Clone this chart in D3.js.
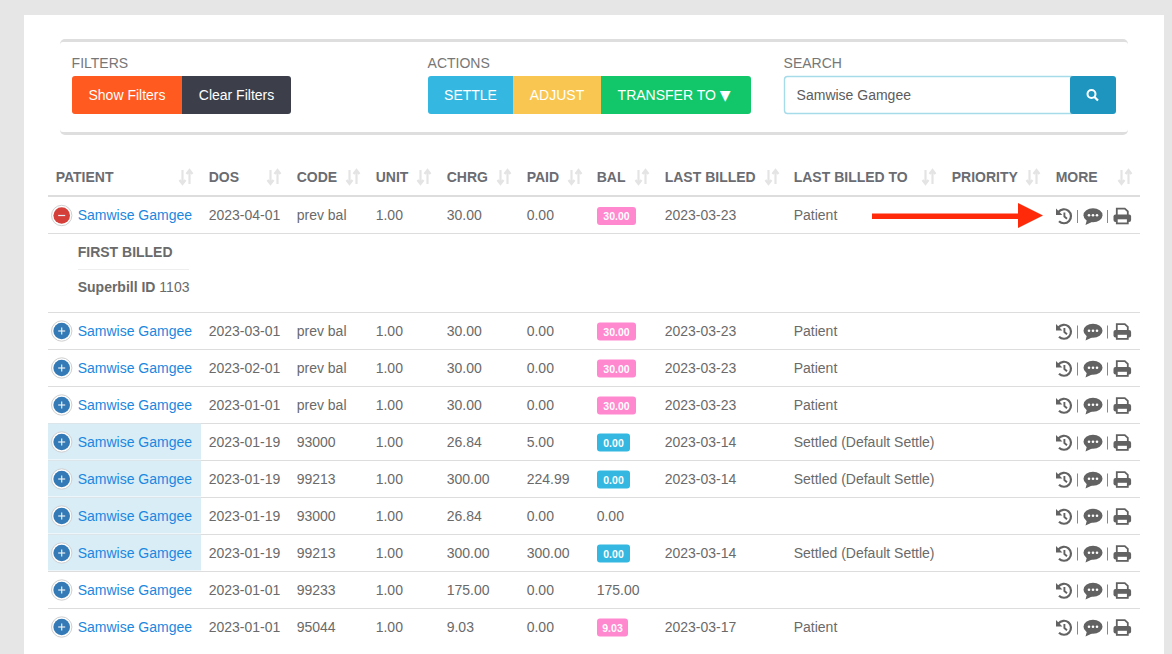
<!DOCTYPE html>
<html>
<head>
<meta charset="utf-8">
<script src="https://cdn.jsdelivr.net/npm/d3@7"></script>
<style>
  html, body { margin: 0; padding: 0; background: #e6e6e6; overflow: hidden; }
  svg { display: block; font-family: "Liberation Sans", Arial, sans-serif; }
</style>
</head>
<body>
<div id="vis"></div>
<script>
// table columns
var columns = ["PATIENT", "DOS", "CODE", "UNIT", "CHRG", "PAID", "BAL", "LAST BILLED", "LAST BILLED TO", "PRIORITY", "MORE"];
var columnX = [55.7, 208.7, 296.7, 375.7, 446.7, 526.7, 596.7, 664.7, 793.7, 951.7, 1055.7];
var sortX = [179, 267, 346, 417, 497, 568, 635, 765, 922, 1026, 1118];

// row values, top to bottom
var dos = ["2023-04-01", "2023-03-01", "2023-02-01", "2023-01-01", "2023-01-19", "2023-01-19", "2023-01-19", "2023-01-19", "2023-01-01", "2023-01-01"];
var codes = ["prev bal", "prev bal", "prev bal", "prev bal", "93000", "99213", "93000", "99213", "99233", "95044"];
var chrg = ["30.00", "30.00", "30.00", "30.00", "26.84", "300.00", "26.84", "300.00", "175.00", "9.03"];
var paid = ["0.00", "0.00", "0.00", "0.00", "5.00", "224.99", "0.00", "300.00", "0.00", "0.00"];
var bal = ["30.00", "30.00", "30.00", "30.00", "0.00", "0.00", "0.00", "0.00", "175.00", "9.03"];
var balStyle = ["pink", "pink", "pink", "pink", "blue", "blue", "plain", "blue", "plain", "pink"];
var lastBilled = ["2023-03-23", "2023-03-23", "2023-03-23", "2023-03-23", "2023-03-14", "2023-03-14", "", "2023-03-14", "", "2023-03-17"];
var billedTo = ["Patient", "Patient", "Patient", "Patient", "Settled (Default Settle)", "Settled (Default Settle)", "", "Settled (Default Settle)", "", "Patient"];
var shaded = [false, false, false, false, true, true, true, true, false, false];

var width = 1172;
var height = 654;
var textColor = "#6a6a6a";
var iconColor = "#626262";
var lineColor = "#dddddd";

var svg = d3.select("#vis").append("svg").attr("width", width).attr("height", height);

svg.append("rect").attr("width", width).attr("height", height).attr("fill", "#e6e6e6");
svg.append("rect").attr("x", 24).attr("y", 15).attr("width", 1140).attr("height", 640).attr("fill", "#fff");

// toolbar panel
svg.append("rect").attr("x", 60).attr("y", 39).attr("width", 1068).attr("height", 96).attr("rx", 5).attr("fill", "#dedede");
svg.append("rect").attr("x", 60).attr("y", 42).attr("width", 1068).attr("height", 90).attr("rx", 3).attr("fill", "#fff");

function label(txt, x) {
  svg.append("text").attr("x", x).attr("y", 68).attr("font-size", 14).attr("fill", "#777").text(txt);
}
label("FILTERS", 71.6);
label("ACTIONS", 427.6);
label("SEARCH", 783.6);

// a run of joined buttons with rounded outer corners
function buttons(list) {
  var x0 = list[0].x, x1 = list[list.length - 1].x + list[list.length - 1].w;
  var id = "clip" + x0;
  svg.append("clipPath").attr("id", id).append("rect")
    .attr("x", x0).attr("y", 76).attr("width", x1 - x0).attr("height", 38).attr("rx", 3);
  var g = svg.append("g").attr("clip-path", "url(#" + id + ")");
  list.forEach(function (b) {
    g.append("rect").attr("x", b.x).attr("y", 76).attr("width", b.w).attr("height", 38).attr("fill", b.fill);
    if (b.text) {
      g.append("text").attr("x", b.x + b.w / 2).attr("y", 100).attr("text-anchor", "middle")
        .attr("font-size", 14).attr("fill", "#fff").text(b.text);
    }
  });
}
buttons([
  { x: 72, w: 110, fill: "#ff5a20", text: "Show Filters" },
  { x: 182, w: 109, fill: "#3c3f4a", text: "Clear Filters" }
]);
buttons([
  { x: 428, w: 85, fill: "#34b7e0", text: "SETTLE" },
  { x: 513, w: 88, fill: "#f9c751", text: "ADJUST" },
  { x: 601, w: 150, fill: "#12c76a" }
]);
var transfer = svg.append("text").attr("x", 617.6).attr("y", 100).attr("font-size", 14).attr("fill", "#fff");
transfer.append("tspan").text("TRANSFER TO ");
transfer.append("tspan").attr("font-family", "DejaVu Sans").attr("font-size", 14).text("▼");

// search box
svg.append("rect").attr("x", 784.5).attr("y", 76.5).attr("width", 290).attr("height", 37).attr("rx", 3)
  .attr("fill", "#fff").attr("stroke", "#a6dbe9").attr("stroke-width", 1.4);
svg.append("text").attr("x", 796.6).attr("y", 100).attr("font-size", 14).attr("fill", "#5c5c5c").text("Samwise Gamgee");
buttons([{ x: 1070, w: 46, fill: "#1e95bf" }]);
svg.append("circle").attr("cx", 1091.5).attr("cy", 94).attr("r", 4).attr("fill", "none").attr("stroke", "#fff").attr("stroke-width", 2);
svg.append("line").attr("x1", 1094.5).attr("y1", 97).attr("x2", 1098).attr("y2", 100.5).attr("stroke", "#fff").attr("stroke-width", 2.2);

// header
var head = svg.append("g");
columns.forEach(function (c, i) {
  head.append("text").attr("x", columnX[i]).attr("y", 182).attr("font-size", 14).attr("font-weight", 700)
    .attr("fill", "#6a6c72").text(c);
  var s = head.append("g").attr("transform", "translate(" + sortX[i] + ",170)")
    .attr("fill", "none").attr("stroke", "#e4e4e4").attr("stroke-width", 2.2);
  s.append("path").attr("d", "M3.5 0V13M0.5 10L3.5 14L6.5 10");
  s.append("path").attr("d", "M10.5 14V1M7.5 4L10.5 0L13.5 4");
});
svg.append("rect").attr("x", 48).attr("y", 195).attr("width", 1092).attr("height", 2).attr("fill", lineColor);

// row geometry: first row sits above the expanded detail block
var rowScale = d3.scaleBand().domain(d3.range(9)).range([312, 645]);
function rowCenter(i) {
  return i === 0 ? 215 : rowScale(i - 1) + rowScale.bandwidth() / 2;
}

function hLine(y) {
  svg.append("rect").attr("x", 48).attr("y", y - 0.5).attr("width", 1092).attr("height", 1).attr("fill", lineColor);
}
hLine(233.5);
d3.range(9).forEach(function (i) { hLine(rowScale(i) + 0.5); });

// expanded detail
svg.append("text").attr("x", 77.7).attr("y", 257).attr("font-size", 14).attr("font-weight", 700).attr("fill", textColor).text("FIRST BILLED");
svg.append("rect").attr("x", 78).attr("y", 269).attr("width", 111).attr("height", 1).attr("fill", "#eeeeee");
var sb = svg.append("text").attr("x", 77.7).attr("y", 292).attr("font-size", 14).attr("fill", textColor);
sb.append("tspan").attr("font-weight", 700).text("Superbill ID");
sb.append("tspan").text(" 1103");

// icons
function historyIcon(g) {
  g.append("path").attr("d", "M-5.6 -4A7 7 0 1 1 -5 5.2").attr("fill", "none").attr("stroke", iconColor).attr("stroke-width", 2.2);
  g.append("path").attr("d", "M-8 -7.6L-8 -1L-1.6 -1Z").attr("fill", iconColor);
  g.append("path").attr("d", "M0.4 -3.6V0.6L3 2.8").attr("fill", "none").attr("stroke", iconColor).attr("stroke-width", 1.9);
}
function commentIcon(g) {
  g.append("ellipse").attr("rx", 9.5).attr("cy", -0.8).attr("ry", 7).attr("fill", iconColor);
  g.append("path").attr("d", "M-6 3.5L-7.5 9L-0.5 5.8Z").attr("fill", iconColor);
  [-4, 0, 4].forEach(function (dx) {
    g.append("circle").attr("cx", dx).attr("cy", -0.8).attr("r", 1.3).attr("fill", "#fff");
  });
}
function printIcon(g) {
  g.append("path").attr("d", "M-5.5 -1V-7.4H2.5L5.5 -4.6V-1").attr("fill", "none").attr("stroke", iconColor).attr("stroke-width", 1.8);
  g.append("rect").attr("x", -8.8).attr("y", -1.6).attr("width", 17.6).attr("height", 7.6).attr("rx", 2).attr("fill", iconColor);
  g.append("rect").attr("x", -5.5).attr("y", 2.4).attr("width", 11).attr("height", 5).attr("fill", "#fff").attr("stroke", iconColor).attr("stroke-width", 1.8);
}

// rows
var rows = svg.selectAll(".row").data(dos).enter().append("g").attr("class", "row")
  .attr("transform", function (d, i) { return "translate(0," + rowCenter(i) + ")"; });

rows.filter(function (d, i) { return shaded[i]; }).append("rect")
  .attr("x", 48).attr("y", -18).attr("width", 153).attr("height", 36).attr("fill", "#d9edf7");

rows.append("circle").attr("cx", 61.7).attr("cy", 0.5).attr("r", 10.2).attr("fill", "#fff")
  .attr("stroke", "#cfcfcf").attr("stroke-width", 1);
rows.append("circle").attr("cx", 61.7).attr("cy", 0.5).attr("r", 8.3)
  .attr("fill", function (d, i) { return i === 0 ? "#d43f3a" : "#337ab7"; });
rows.append("rect").attr("x", 58.2).attr("y", -0.1).attr("width", 7).attr("height", 1.2).attr("fill", "#e8eef5");
rows.filter(function (d, i) { return i > 0; }).append("rect")
  .attr("x", 61.1).attr("y", -3).attr("width", 1.2).attr("height", 7).attr("fill", "#e8eef5");

function textColumn(values, x, color) {
  rows.append("text").attr("x", x).attr("y", 5).attr("font-size", 14)
    .attr("fill", color || textColor)
    .text(function (d, i) { return values[i]; });
}
textColumn(dos.map(function () { return "Samwise Gamgee"; }), 77.7, "#1b87e0");
textColumn(dos, columnX[1]);
textColumn(codes, columnX[2]);
textColumn(dos.map(function () { return "1.00"; }), columnX[3]);
textColumn(chrg, columnX[4]);
textColumn(paid, columnX[5]);
textColumn(lastBilled, columnX[7]);
textColumn(billedTo, columnX[8]);

// balance: plain text or coloured badge
rows.each(function (d, i) {
  var g = d3.select(this);
  if (balStyle[i] === "plain") {
    g.append("text").attr("x", columnX[6]).attr("y", 5).attr("font-size", 14).attr("fill", textColor).text(bal[i]);
    return;
  }
  var w = bal[i].length === 5 ? 39 : (bal[i] === "0.00" ? 33 : 31);
  g.append("rect").attr("x", 597).attr("y", -8).attr("width", w).attr("height", 18).attr("rx", 3)
    .attr("fill", balStyle[i] === "pink" ? "#ff88cf" : "#34b7e0");
  g.append("text").attr("x", 597 + w / 2).attr("y", 5).attr("text-anchor", "middle")
    .attr("font-size", 10.5).attr("font-weight", 700).attr("fill", "#fff").text(bal[i]);
});

// action icons
rows.each(function (d, i) {
  var g = d3.select(this);
  historyIcon(g.append("g").attr("transform", "translate(1064,1)"));
  g.append("rect").attr("x", 1077).attr("y", -5).attr("width", 1).attr("height", 13).attr("fill", "#888");
  commentIcon(g.append("g").attr("transform", "translate(1093,1)"));
  g.append("rect").attr("x", 1107).attr("y", -5).attr("width", 1).attr("height", 13).attr("fill", "#888");
  printIcon(g.append("g").attr("transform", "translate(1122.3,1)"));
});

// red annotation arrow
svg.append("rect").attr("x", 872).attr("y", 213.5).attr("width", 150).attr("height", 5.5).attr("fill", "#ff2a0a");
svg.append("path").attr("d", "M1018 203L1043 215.5L1018 228Z").attr("fill", "#ff2a0a");
</script>
</body>
</html>
